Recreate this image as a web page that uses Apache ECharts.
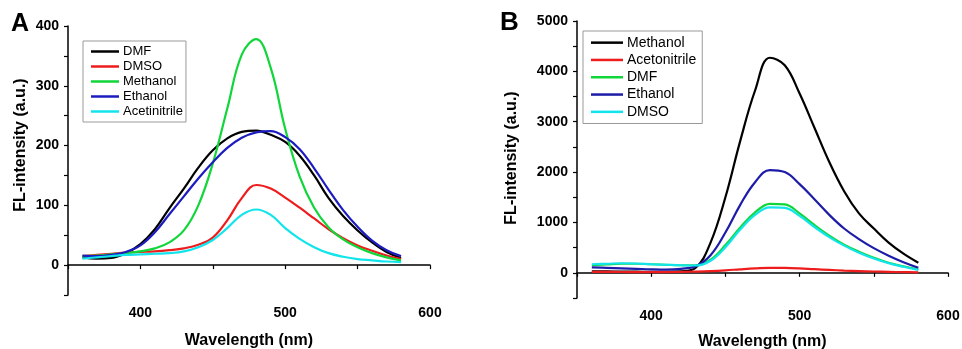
<!DOCTYPE html>
<html>
<head>
<meta charset="utf-8">
<script src="https://cdn.jsdelivr.net/npm/echarts@6/dist/echarts.min.js"></script>
<style>
  html, body { margin: 0; padding: 0; background: #fff; }
  #chart { width: 962px; height: 349px; }
</style>
</head>
<body>
<div id="chart"></div>
<script>
// wavelengths (nm), shared by every curve
const wavelength = [360, 370, 380, 390, 400, 410, 420, 430, 440, 450, 460, 470,
  480, 490, 500, 510, 520, 530, 540, 550, 560, 570, 580]

// panel A
const namesA = ['DMF', 'DMSO', 'Methanol', 'Ethanol', 'Acetinitrile']
const dmfA = [13, 11, 12, 20, 35, 60, 95, 128, 163, 192, 212, 223, 225, 218, 206, 183, 150, 112, 82, 58, 38, 22, 12]
const dmsoA = [15, 17, 19, 21, 22, 23, 25, 28, 34, 46, 75, 112, 134, 128, 113, 96, 78, 60, 45, 33, 24, 16, 10]
const methanolA = [15, 16, 18, 20, 23, 28, 38, 58, 100, 170, 262, 352, 378, 330, 228, 148, 96, 63, 43, 30, 20, 13, 8]
const ethanolA = [16, 15, 17, 22, 33, 55, 85, 115, 145, 172, 196, 213, 222, 224, 214, 194, 162, 126, 92, 64, 41, 25, 15]
const acetoA = [11, 13, 15, 17, 18, 19, 20, 23, 30, 42, 62, 84, 93, 84, 62, 44, 30, 20, 14, 10, 8, 6, 5]

// panel B
const namesB = ['Methanol', 'Acetonitrile', 'DMF', 'Ethanol', 'DMSO']
const methanolB = [30, 28, 25, 22, 20, 20, 30, 100, 600, 1500, 2620, 3620, 4270, 4120, 3560, 2880, 2200, 1620, 1180, 880, 600, 380, 200]
const acetoB = [20, 18, 16, 15, 15, 15, 18, 25, 35, 50, 70, 88, 100, 98, 88, 72, 58, 45, 35, 26, 19, 14, 10]
const dmfB = [150, 165, 180, 180, 170, 160, 150, 150, 260, 550, 900, 1200, 1370, 1360, 1180, 950, 740, 560, 420, 300, 200, 130, 70]
const ethanolB = [110, 100, 90, 80, 70, 65, 80, 130, 350, 800, 1350, 1800, 2040, 2000, 1760, 1460, 1150, 880, 670, 490, 340, 210, 100]
const dmsoB = [170, 180, 190, 185, 170, 160, 150, 145, 240, 510, 860, 1150, 1300, 1290, 1130, 910, 710, 540, 400, 285, 190, 120, 60]

const colorsA = ['#000000', '#ee1c1c', '#11d63a', '#1c1cc0', '#12e4ec']
const colorsB = ['#000000', '#ee1c1c', '#11d63a', '#1c1ca8', '#12e4ec']

const font = 'Liberation Sans, Arial, sans-serif'

function pairs(values) {
  return wavelength.map((w, i) => [w, values[i]])
}

// series ids carry a panel prefix so the two legends don't mix up colours
const key = (panel, name) => panel + '|' + name
const label = name => name.split('|')[1]

function xAxisOf(gridIndex, gap) {
  return {
    gridIndex: gridIndex,
    type: 'value',
    min: 350,
    max: 600,
    interval: 50,
    name: 'Wavelength (nm)',
    nameLocation: 'middle',
    nameGap: gap,
    nameTextStyle: { fontFamily: font, fontSize: 16, fontWeight: 'bold', color: '#000' },
    axisLine: { lineStyle: { color: '#000', width: 1.5 } },
    axisTick: { length: 4, lineStyle: { color: '#000', width: 1.2 } },
    axisLabel: {
      margin: 11,
      fontFamily: font,
      fontSize: 14,
      fontWeight: 'bold',
      color: '#000',
      formatter: v => (v % 100 === 0 && v > 350 ? String(v) : '')
    },
    splitLine: { show: false }
  }
}

function yAxisOf(gridIndex, min, max, step) {
  return {
    gridIndex: gridIndex,
    type: 'value',
    min: min,
    max: max,
    interval: step / 2,
    axisLine: { show: true, lineStyle: { color: '#000', width: 1.5 } },
    axisTick: { show: true, length: 4, lineStyle: { color: '#000', width: 1.2 } },
    axisLabel: {
      margin: 9,
      fontFamily: font,
      fontSize: 14,
      fontWeight: 'bold',
      color: '#000',
      formatter: v => (v % step === 0 ? String(v) : '')
    },
    splitLine: { show: false }
  }
}

function lineSeries(panel, name, values, color, idx) {
  return {
    name: key(panel, name),
    type: 'line',
    xAxisIndex: idx,
    yAxisIndex: idx,
    data: pairs(values),
    smooth: 0.4,
    showSymbol: false,
    color: color,
    lineStyle: { color: color, width: 2.2 },
    z: 2
  }
}

function legendOf(panel, names, left, top, fontSize, lineHeight, iconWidth, padding) {
  return {
    data: names.map(n => key(panel, n)),
    formatter: label,
    orient: 'vertical',
    left: left,
    top: top,
    icon: 'rect',
    itemWidth: iconWidth,
    itemHeight: 2.5,
    itemGap: 0,
    padding: padding,
    borderColor: '#999',
    borderWidth: 1,
    textStyle: { fontFamily: font, fontSize: fontSize, color: '#000', lineHeight: lineHeight, padding: [0, 0, 0, -1] }
  }
}

const chart = echarts.init(document.getElementById('chart'))

chart.setOption({
  animation: false,
  backgroundColor: '#fff',
  grid: [
    { left: 68, top: 26, right: 532, bottom: 54, outerBoundsMode: 'none' },
    { left: 577, top: 21, right: 14, bottom: 51, outerBoundsMode: 'none' }
  ],
  xAxis: [xAxisOf(0, 38), xAxisOf(1, 36)],
  yAxis: [yAxisOf(0, -50, 400, 100), yAxisOf(1, -500, 5000, 1000)],
  legend: [
    legendOf('A', namesA, 83, 41, 13, 15, 28, [3, 3, 3, 8]),
    legendOf('B', namesB, 583, 31, 14, 17.3, 32, [3, 6, 3, 8])
  ],
  graphic: [
    { type: 'text', left: 11, top: 12, style: { text: 'A', font: 'bold 25px ' + font, fill: '#000' } },
    { type: 'text', left: 500, top: 10, style: { text: 'B', font: 'bold 26px ' + font, fill: '#000' } },
    {
      type: 'text', x: 21, y: 145, rotation: Math.PI / 2,
      style: { text: 'FL-intensity (a.u.)', font: 'bold 16px ' + font, fill: '#000', align: 'center', verticalAlign: 'middle' }
    },
    {
      type: 'text', x: 512, y: 158, rotation: Math.PI / 2,
      style: { text: 'FL-intensity (a.u.)', font: 'bold 16px ' + font, fill: '#000', align: 'center', verticalAlign: 'middle' }
    }
  ],
  series: [
    lineSeries('A', namesA[0], dmfA, colorsA[0], 0),
    lineSeries('A', namesA[1], dmsoA, colorsA[1], 0),
    lineSeries('A', namesA[2], methanolA, colorsA[2], 0),
    lineSeries('A', namesA[3], ethanolA, colorsA[3], 0),
    lineSeries('A', namesA[4], acetoA, colorsA[4], 0),
    lineSeries('B', namesB[0], methanolB, colorsB[0], 1),
    lineSeries('B', namesB[1], acetoB, colorsB[1], 1),
    lineSeries('B', namesB[2], dmfB, colorsB[2], 1),
    lineSeries('B', namesB[3], ethanolB, colorsB[3], 1),
    lineSeries('B', namesB[4], dmsoB, colorsB[4], 1)
  ]
})
</script>
</body>
</html>
